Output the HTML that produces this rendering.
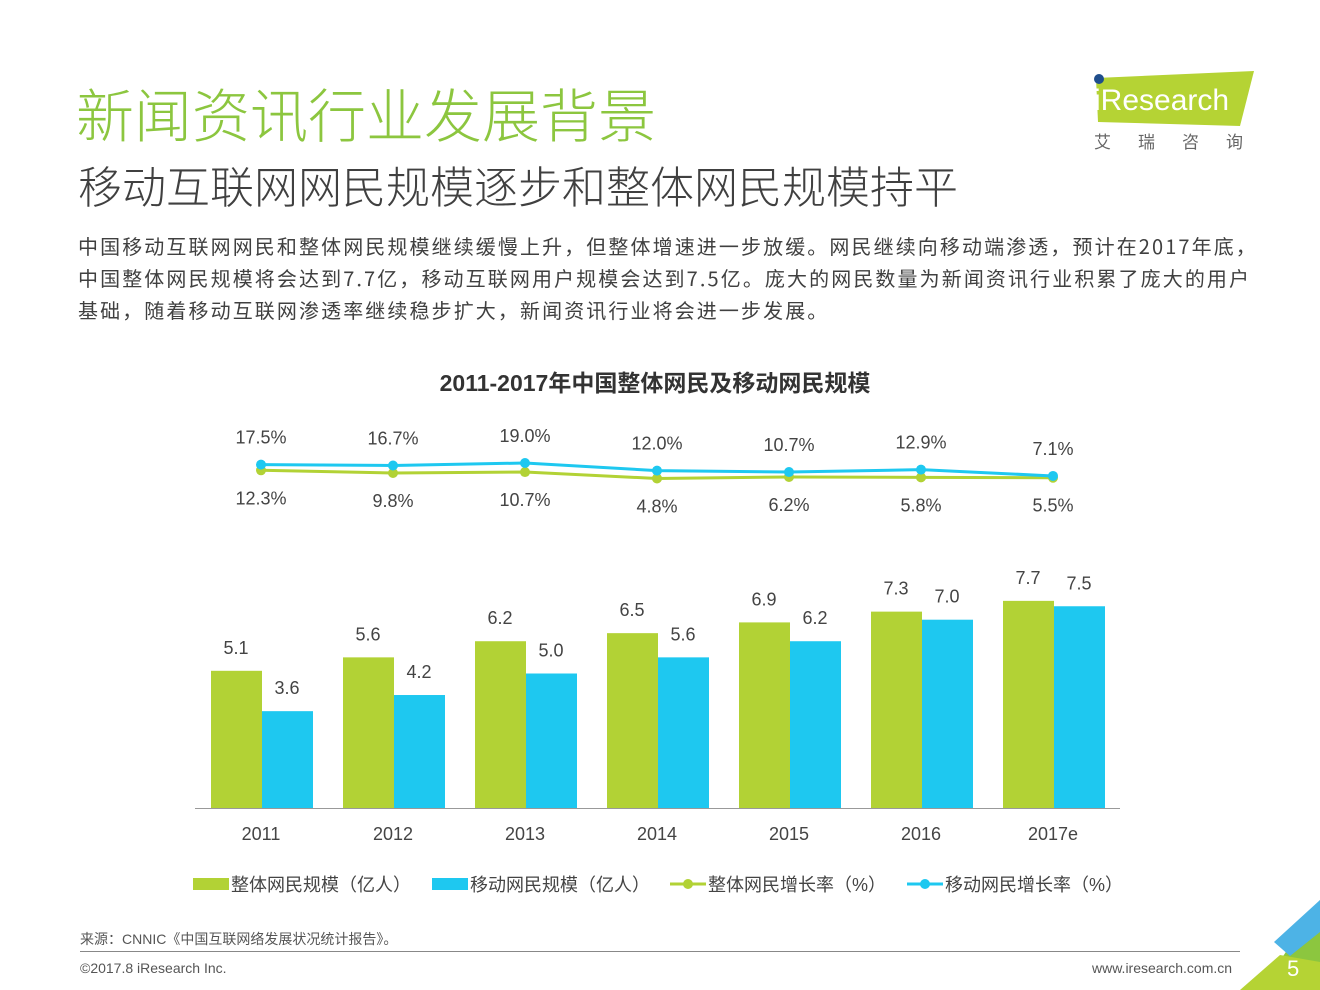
<!DOCTYPE html>
<html><head><meta charset="utf-8"><style>
body{margin:0;width:1320px;height:990px;background:#fff;position:relative;overflow:hidden;font-family:"Liberation Sans","Noto Sans CJK SC",sans-serif}
.a{position:absolute;white-space:nowrap}
</style></head><body>
<div class="a" style="left:76px;top:70px;font-size:58px;color:#8cc63f;font-family:'Noto Sans CJK SC',sans-serif;font-weight:300;letter-spacing:0px">新闻资讯行业发展背景</div>
<div class="a" style="left:78px;top:152px;font-size:44px;color:#404040;font-family:'Noto Sans CJK SC',sans-serif;font-weight:300">移动互联网网民规模逐步和整体网民规模持平</div>
<div class="a" style="left:78px;top:230px;font-size:20px;letter-spacing:2.1px;line-height:32px;color:#404040;font-family:'Noto Sans CJK SC',sans-serif;white-space:nowrap">中国移动互联网网民和整体网民规模继续缓慢上升，但整体增速进一步放缓。网民继续向移动端渗透，预计在2017年底，<br>中国整体网民规模将会达到7.7亿，移动互联网用户规模会达到7.5亿。庞大的网民数量为新闻资讯行业积累了庞大的用户<br>基础，随着移动互联网渗透率继续稳步扩大，新闻资讯行业将会进一步发展。</div>
<svg class="a" style="left:1090px;top:68px" width="170" height="90">
<polygon points="6,10 164,3 150,58 8,54" fill="#b5d334"/>
<circle cx="9" cy="11" r="5" fill="#1f4e8c"/>
<text x="4" y="42" font-size="30" fill="#fff" font-family="Liberation Sans">iResearch</text>
<text x="4" y="80" font-size="17" fill="#666" font-family="Noto Sans CJK SC" letter-spacing="27">艾瑞咨询</text>
</svg>
<div class="a" style="left:0;width:1310px;text-align:center;top:364px;font-size:23px;font-weight:bold;color:#333">2011-2017年中国整体网民及移动网民规模</div>
<svg id="chart" class="a" style="left:0;top:0" width="1320" height="990"></svg>
<div class="a" style="left:80px;top:929px;font-size:14px;color:#555">来源：CNNIC《中国互联网络发展状况统计报告》。</div>
<div class="a" style="left:80px;top:951px;width:1160px;height:1px;background:#888"></div>
<div class="a" style="left:80px;top:960px;font-size:14px;color:#555">©2017.8 iResearch Inc.</div>
<div class="a" style="left:1092px;top:960px;font-size:14px;color:#555">www.iresearch.com.cn</div>
<svg class="a" style="left:1240px;top:900px" width="80" height="90">
<polygon points="80,0 80,90 36,90 34,70" fill="#8cc63f"/>
<polygon points="80,0 80,32 50,56 34,42" fill="#4db3e6"/>
<polygon points="0,90 40,55 80,62 80,90" fill="#b5d334"/>
<text x="47" y="76" font-size="22" fill="#fff" font-family="Liberation Sans">5</text>
</svg>
<script>
const years=["2011","2012","2013","2014","2015","2016","2017e"];
const totalUsers=[5.1,5.6,6.2,6.5,6.9,7.3,7.7];
const mobileUsers=[3.6,4.2,5.0,5.6,6.2,7.0,7.5];
const totalGrowth=[12.3,9.8,10.7,4.8,6.2,5.8,5.5];
const mobileGrowth=[17.5,16.7,19.0,12.0,10.7,12.9,7.1];
const svg=document.getElementById('chart');const NS='http://www.w3.org/2000/svg';
function mk(t,a,txt){const e=document.createElementNS(NS,t);for(const k in a)e.setAttribute(k,a[k]);if(txt!=null)e.textContent=txt;svg.appendChild(e);return e;}
const G='#b2d235',B='#1ec8f0';
const xC=i=>261+132*i;
const yB=v=>808-26.9*v;
const yL=v=>483.7-1.09*v;
mk('line',{x1:195,x2:1120,y1:808.5,y2:808.5,stroke:'#999','stroke-width':1,});
years.forEach((y,i)=>{
 let r=mk('rect',{x:xC(i)-50,y:yB(totalUsers[i]),width:51,height:808-yB(totalUsers[i]),fill:G});
 
 
 r=mk('rect',{x:xC(i)+1,y:yB(mobileUsers[i]),width:51,height:808-yB(mobileUsers[i]),fill:B});
 
 
 let t=mk('text',{x:xC(i)-25,y:yB(totalUsers[i])-17,'font-size':18,fill:'#444','text-anchor':'middle'},totalUsers[i].toFixed(1));
 
 
 t=mk('text',{x:xC(i)+26,y:yB(mobileUsers[i])-17,'font-size':18,fill:'#444','text-anchor':'middle'},mobileUsers[i].toFixed(1));
 
 
 t=mk('text',{x:xC(i),y:840,'font-size':18,fill:'#444','text-anchor':'middle'},y);
 
 
});
function line(vals,c,nm,off){
 const p=mk('polyline',{points:vals.map((v,i)=>xC(i)+','+yL(v)).join(' '),fill:'none',stroke:c,'stroke-width':3});
 
 
 vals.forEach((v,i)=>{
  const d=mk('circle',{cx:xC(i),cy:yL(v),r:5,fill:c});
  
  
  const t=mk('text',{x:xC(i),y:yL(v)+off,'font-size':18,fill:'#444','text-anchor':'middle'},v.toFixed(1)+'%');
  
  
 });
}
line(totalGrowth,G,'total-growth',34);
line(mobileGrowth,B,'mobile-growth',-21);
const leg=[['整体网民规模（亿人）',G,0,193],['移动网民规模（亿人）',B,0,432],['整体网民增长率（%）',G,1,670],['移动网民增长率（%）',B,1,907]];
leg.forEach((l,i)=>{
 if(l[2]){mk('line',{x1:l[3],x2:l[3]+36,y1:884,y2:884,stroke:l[1],'stroke-width':3});mk('circle',{cx:l[3]+18,cy:884,r:5,fill:l[1]});}
 else mk('rect',{x:l[3],y:878,width:36,height:12,fill:l[1]});
 const t=mk('text',{x:l[3]+38,y:891,'font-size':18,fill:'#444'},l[0]);
 
 
});
</script>
</body></html>
